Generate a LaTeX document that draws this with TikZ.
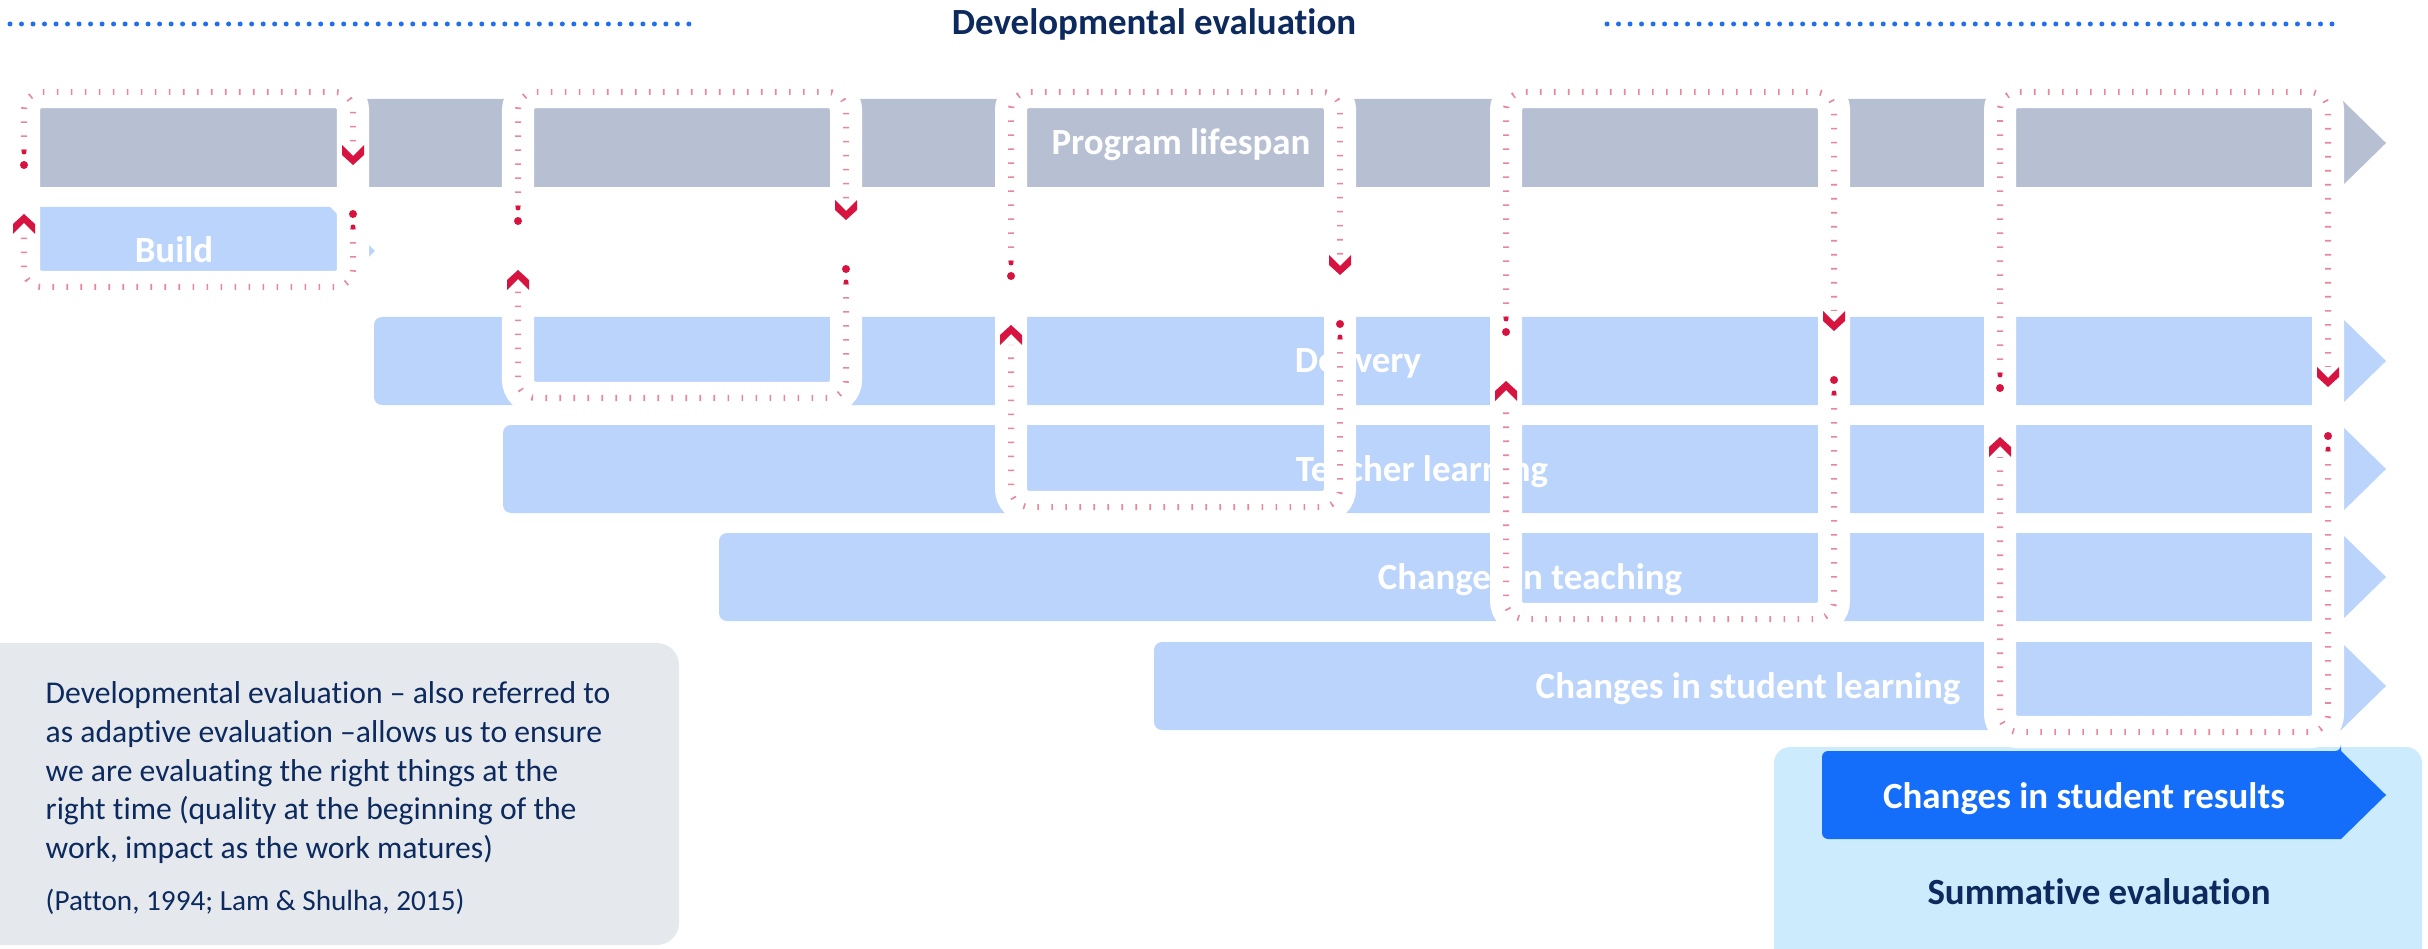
\documentclass[tikz,border=0pt]{standalone}
\usepackage{fontspec}
\setmainfont{Carlito}[Ligatures=NoCommon]
\usepackage{tikz}

\definecolor{navytext}{HTML}{0D2A5E}
\definecolor{dotblue}{HTML}{1F6FEF}
\definecolor{spangray}{HTML}{B7BFD3}
\definecolor{barblue}{HTML}{BBD4FB}
\definecolor{resultblue}{HTML}{156EFA}
\definecolor{sumbg}{HTML}{CCEBFC}
\definecolor{notebg}{HTML}{E5E9ED}
\definecolor{cyclered}{HTML}{D7143F}
\definecolor{tickpink}{HTML}{E8879C}

\begin{document}
\begin{tikzpicture}[x=0.01cm, y=-0.01cm,
    bartext/.style={anchor=base, inner sep=0pt, text=white, font=\fontsize{10.5}{12}\selectfont\bfseries},
    headtext/.style={anchor=base, inner sep=0pt, text=navytext, font=\fontsize{10.5}{12}\selectfont\bfseries},
    dotline/.style={dotblue, line width=0.05cm, line cap=round, dash pattern=on 0pt off 0.115cm},
    band/.style={white, line width=0.32cm, rounded corners=0.18cm},
    ticks/.style={tickpink, line width=0.06cm, dash pattern=on 0.016cm off 0.124cm, rounded corners=0.18cm},
    chevdown/.pic={\fill[cyclered] (-11,-10) -- (0,1) -- (11,-10) -- (11,0) -- (0,10) -- (-11,0) -- cycle;},
    chevup/.pic={\fill[cyclered] (-11,10) -- (0,-1) -- (11,10) -- (11,0) -- (0,-10) -- (-11,0) -- cycle;}]
    \useasboundingbox (0,0) rectangle (2428,949);

    % Heading with dotted rules
    \draw[dotline] (10,24) -- (699,24);
    \draw[dotline] (1607,24) -- (2343,24);
    \node[headtext] (devtitle) at (1154,35) {Developmental evaluation};

    % Stage bars
    \fill[spangray] (26,99) -- (2341,99) -- (2386,143) -- (2341,187) -- (26,187) -- cycle; % Program lifespan
    \fill[barblue] (26,207) -- (330,207) -- (375,251) -- (330,295) -- (26,295) -- cycle; % Build
    \fill[barblue] (2341,317) -- (2386,361) -- (2341,405) [rounded corners=0.08cm] -- (374,405) -- (374,317) -- (2341,317) [sharp corners] -- cycle; % Delivery
    \fill[barblue] (2341,425) -- (2386,469) -- (2341,513) [rounded corners=0.08cm] -- (503,513) -- (503,425) -- (2341,425) [sharp corners] -- cycle; % Teacher learning
    \fill[barblue] (2341,533) -- (2386,577) -- (2341,621) [rounded corners=0.08cm] -- (719,621) -- (719,533) -- (2341,533) [sharp corners] -- cycle; % Changes in teaching
    \fill[barblue] (2341,642) -- (2386,686) -- (2341,730) [rounded corners=0.08cm] -- (1154,730) -- (1154,642) -- (2341,642) [sharp corners] -- cycle; % Changes in student learning

    \node[bartext] (lifespan) at (1181,155) {Program lifespan};
    \node[bartext] (build) at (174,263) {Build};
    \node[bartext] (delivery) at (1358,373) {Delivery};
    \node[bartext] (teacher) at (1422,481) {Teacher learning};
    \node[bartext] (teaching) at (1530,589) {Changes in teaching};
    \node[bartext] (studlearn) at (1748,698) {Changes in student learning};

    % Summative panel
    \fill[sumbg, rounded corners=0.16cm] (1774,747) rectangle (2422,990);
    \fill[resultblue] (2341,751) -- (2386,795) -- (2341,839) [rounded corners=0.06cm] -- (1822,839) -- (1822,751) -- (2341,751) [sharp corners] -- cycle;
    \node[bartext] (results) at (2084,808) {Changes in student results};
    \node[headtext] (summative) at (2099,904) {Summative evaluation};

    % Note box
    \fill[notebg, rounded corners=0.22cm] (-30,643) rectangle (679,945);
    \node[anchor=north west, inner sep=0pt, align=left, text=navytext,
          font=\fontsize{9}{11}\selectfont] (note) at (45,681)
        {Developmental evaluation – also referred to\\
         as adaptive evaluation –allows us to ensure\\
         we are evaluating the right things at the\\
         right time (quality at the beginning of the\\
         work, impact as the work matures)\\[3.7pt]
         {\fontsize{8.3}{10}\selectfont (Patton, 1994; Lam \& Shulha, 2015)}};

    % Cycle 1
    \draw[band] (24,92) rectangle (353,287);
    \draw[ticks] (24,165) -- (24,92) -- (353,92) -- (353,144); % top half
    \draw[ticks] (353,214) -- (353,287) -- (24,287) -- (24,235); % bottom half
    \pic at (353,155) {chevdown}; \pic at (24,224) {chevup};
    \fill[cyclered] (24,165) circle[radius=0.04cm] (24,152) circle[radius=0.025cm] (353,214) circle[radius=0.04cm] (353,227) circle[radius=0.025cm];

    % Cycle 2
    \draw[band] (518,92) rectangle (846,398);
    \draw[ticks] (518,221) -- (518,92) -- (846,92) -- (846,200); % top half
    \draw[ticks] (846,269) -- (846,398) -- (518,398) -- (518,290); % bottom half
    \pic at (846,210) {chevdown}; \pic at (518,280) {chevup};
    \fill[cyclered] (518,221) circle[radius=0.04cm] (518,208) circle[radius=0.025cm] (846,269) circle[radius=0.04cm] (846,282) circle[radius=0.025cm];

    % Cycle 3
    \draw[band] (1011,92) rectangle (1340,507);
    \draw[ticks] (1011,276) -- (1011,92) -- (1340,92) -- (1340,255); % top half
    \draw[ticks] (1340,324) -- (1340,507) -- (1011,507) -- (1011,345); % bottom half
    \pic at (1340,265) {chevdown}; \pic at (1011,335) {chevup};
    \fill[cyclered] (1011,276) circle[radius=0.04cm] (1011,263) circle[radius=0.025cm] (1340,324) circle[radius=0.04cm] (1340,337) circle[radius=0.025cm];

    % Cycle 4
    \draw[band] (1506,92) rectangle (1834,619);
    \draw[ticks] (1506,332) -- (1506,92) -- (1834,92) -- (1834,311); % top half
    \draw[ticks] (1834,380) -- (1834,619) -- (1506,619) -- (1506,401); % bottom half
    \pic at (1834,321) {chevdown}; \pic at (1506,391) {chevup};
    \fill[cyclered] (1506,332) circle[radius=0.04cm] (1506,319) circle[radius=0.025cm] (1834,380) circle[radius=0.04cm] (1834,393) circle[radius=0.025cm];

    % Cycle 5
    \draw[band] (2000,92) rectangle (2328,732);
    \draw[ticks] (2000,388) -- (2000,92) -- (2328,92) -- (2328,367); % top half
    \draw[ticks] (2328,436) -- (2328,732) -- (2000,732) -- (2000,457); % bottom half
    \pic at (2328,377) {chevdown}; \pic at (2000,447) {chevup};
    \fill[cyclered] (2000,388) circle[radius=0.04cm] (2000,375) circle[radius=0.025cm] (2328,436) circle[radius=0.04cm] (2328,449) circle[radius=0.025cm];
\end{tikzpicture}
\end{document}
